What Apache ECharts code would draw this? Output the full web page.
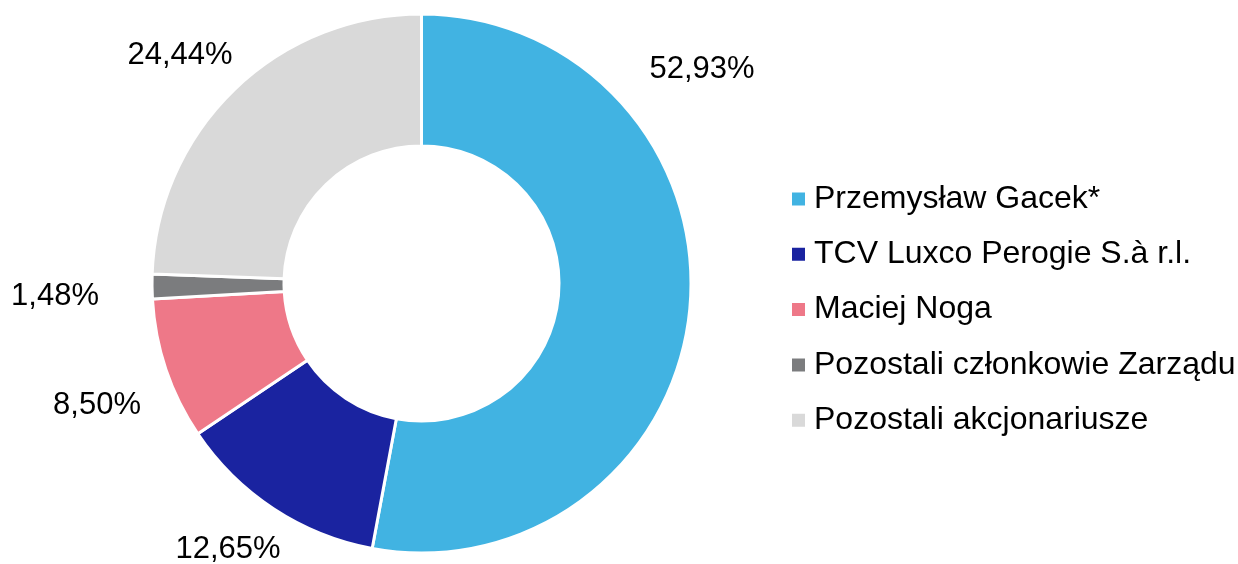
<!DOCTYPE html>
<html>
<head>
<meta charset="utf-8">
<script src="https://cdn.jsdelivr.net/npm/echarts@6/dist/echarts.min.js"></script>
<style>
  html, body { margin: 0; padding: 0; background: #fff; }
  #chart { width: 1238px; height: 564px; }
</style>
</head>
<body>
<div id="chart"></div>
<script>
var names = [
  'Przemysław Gacek*',
  'TCV Luxco Perogie S.à r.l.',
  'Maciej Noga',
  'Pozostali członkowie Zarządu',
  'Pozostali akcjonariusze'
]
var shares = [52.93, 12.65, 8.50, 1.48, 24.44]
var colors = ['#41B3E2', '#1A23A0', '#EE7888', '#7B7C7E', '#D9D9D9']

// where each percentage label sits (text centre, px)
var labelAt = [
  [702, 69],
  [228, 549],
  [97, 405],
  [55, 296],
  [180, 55]
]

var chart = echarts.init(document.getElementById('chart'))

var data = []
for (var i = 0; i < names.length; i++) {
  data.push({ name: names[i], value: shares[i], itemStyle: { color: colors[i] } })
}

var option = {
  animation: false,
  legend: {
    orient: 'vertical',
    left: 785,
    top: 178,
    itemWidth: 15,
    itemHeight: 15,
    itemGap: 23.3,
    icon: 'rect',
    data: names,
    textStyle: {
      fontFamily: 'Liberation Sans, Arial, sans-serif',
      fontSize: 32,
      lineHeight: 32,
      color: '#000',
      padding: [0, 0, 0, 3]
    },
    selectedMode: false
  },
  series: [
    {
      type: 'pie',
      center: [421.5, 283.5],
      radius: [137.5, 269.5],
      startAngle: 90,
      clockwise: true,
      avoidLabelOverlap: false,
      itemStyle: { borderColor: '#fff', borderWidth: 3 },
      label: {
        show: true,
        position: 'outside',
        fontFamily: 'Liberation Sans, Arial, sans-serif',
        fontSize: 31,
        color: '#000',
        formatter: function(p) {
          return p.value.toFixed(2).replace('.', ',') + '%'
        }
      },
      labelLine: { show: false },
      labelLayout: function(params) {
        var pos = labelAt[params.dataIndex]
        return { x: pos[0], y: pos[1], align: 'center', verticalAlign: 'middle' }
      },
      emphasis: { disabled: true },
      data: data
    }
  ]
}

chart.setOption(option)
</script>
</body>
</html>
